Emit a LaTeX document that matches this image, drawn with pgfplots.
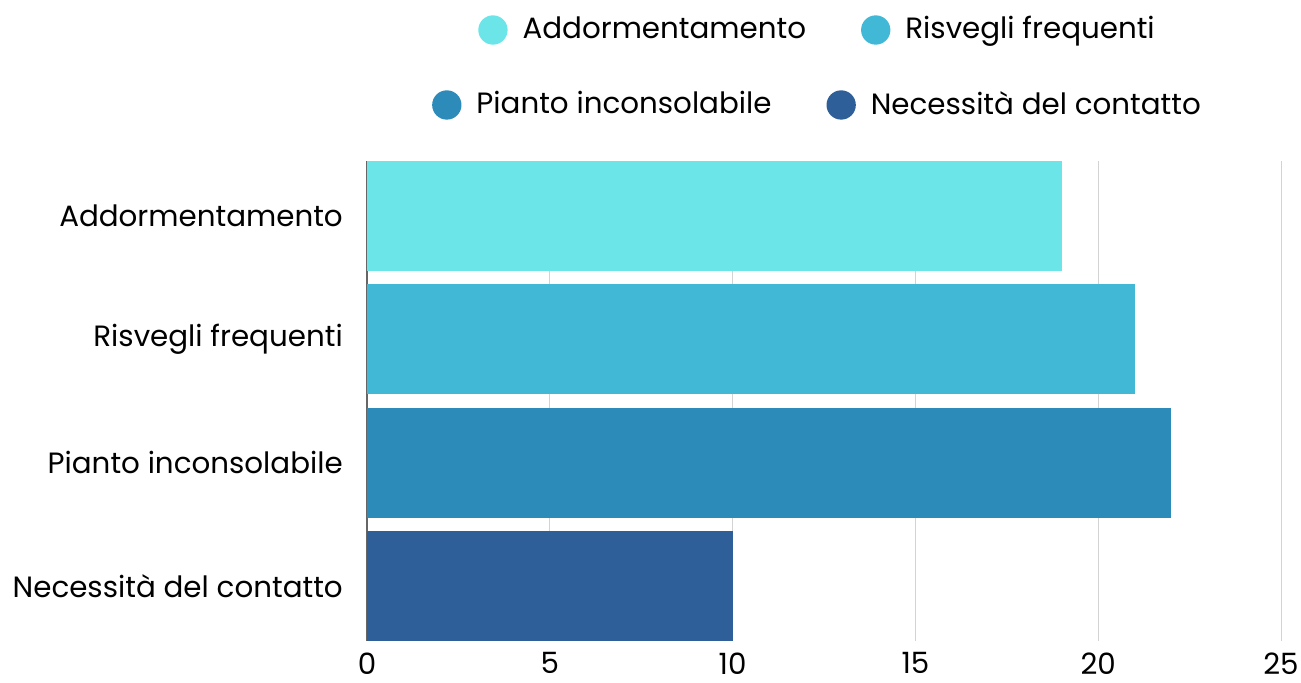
\documentclass[border=0pt]{standalone}
\usepackage{fontspec}
\setmainfont{Poppins}
\usepackage{pgfplots}
\pgfplotsset{compat=1.18}
\definecolor{c1}{HTML}{6CE5E8}
\definecolor{c2}{HTML}{41B8D5}
\definecolor{c3}{HTML}{2D8BBA}
\definecolor{c4}{HTML}{2F5F98}
\definecolor{gridc}{HTML}{D3D3D3}
\newcommand{\chartfont}{\fontsize{22}{26}\selectfont}
\pgfplotsset{
  legaxis/.style={
    at={(0pt,0pt)}, anchor=south west,
    scale only axis, width=685.5pt, height=360pt,
    hide axis, xmin=0, xmax=1, ymin=0, ymax=1,
    legend columns=2,
    legend image code/.code={\fill[##1, draw=none] (0pt,-1pt) circle (11pt);},
  },
  legst/.style={legend style={draw=none, fill=none, inner sep=0pt, font=\chartfont,
      column sep=11.25pt,
      /tikz/every even column/.append style={column sep=41.25pt},
      nodes={inner sep=0pt}}},
}
\begin{document}
\begin{tikzpicture}
\useasboundingbox (-275.25pt,-30.75pt) rectangle (700.5pt,480.75pt);
\begin{axis}[
  at={(0pt,0pt)}, anchor=south west,
  scale only axis, width=685.5pt, height=360pt,
  xmin=0, xmax=25, ymin=-0.446, ymax=3.446,
  xbar, bar width=0.892, bar shift=0pt,
  axis line style={draw=none},
  major tick length=0pt,
  xtick={5,10,15,20,25},
  extra x ticks={0},
  extra x tick style={grid style={draw=black!60, line width=0.8pt}},
  xmajorgrids, grid style={draw=gridc, line width=0.75pt},
  ytick={0,1,2,3},
  yticklabels={Necessità del contatto, Pianto inconsolabile, Risvegli frequenti, Addormentamento},
  yticklabel style={font=\chartfont, anchor=east, inner sep=0pt, xshift=-18pt},
  xticklabel style={font=\chartfont, anchor=north, inner sep=0pt, yshift=-8.5pt},
  /pgf/number format/assume math mode=true,
]
\addplot[fill=c1, draw=none] coordinates {(19,3)};
\addplot[fill=c2, draw=none] coordinates {(21,2)};
\addplot[fill=c3, draw=none] coordinates {(22,1)};
\addplot[fill=c4, draw=none] coordinates {(10,0)};
\end{axis}
\begin{axis}[legaxis, legst, legend style={at={(0.4918,1.2729)}, anchor=center}]
\addlegendimage{fill=c1}
\addlegendentry{Addormentamento}
\addlegendimage{fill=c2}
\addlegendentry{Risvegli frequenti}
\end{axis}
\begin{axis}[legaxis, legst, legend style={at={(0.4918,1.1167)}, anchor=center}]
\addlegendimage{fill=c3}
\addlegendentry{Pianto inconsolabile}
\addlegendimage{fill=c4}
\addlegendentry{Necessità del contatto}
\end{axis}
\end{tikzpicture}
\end{document}
